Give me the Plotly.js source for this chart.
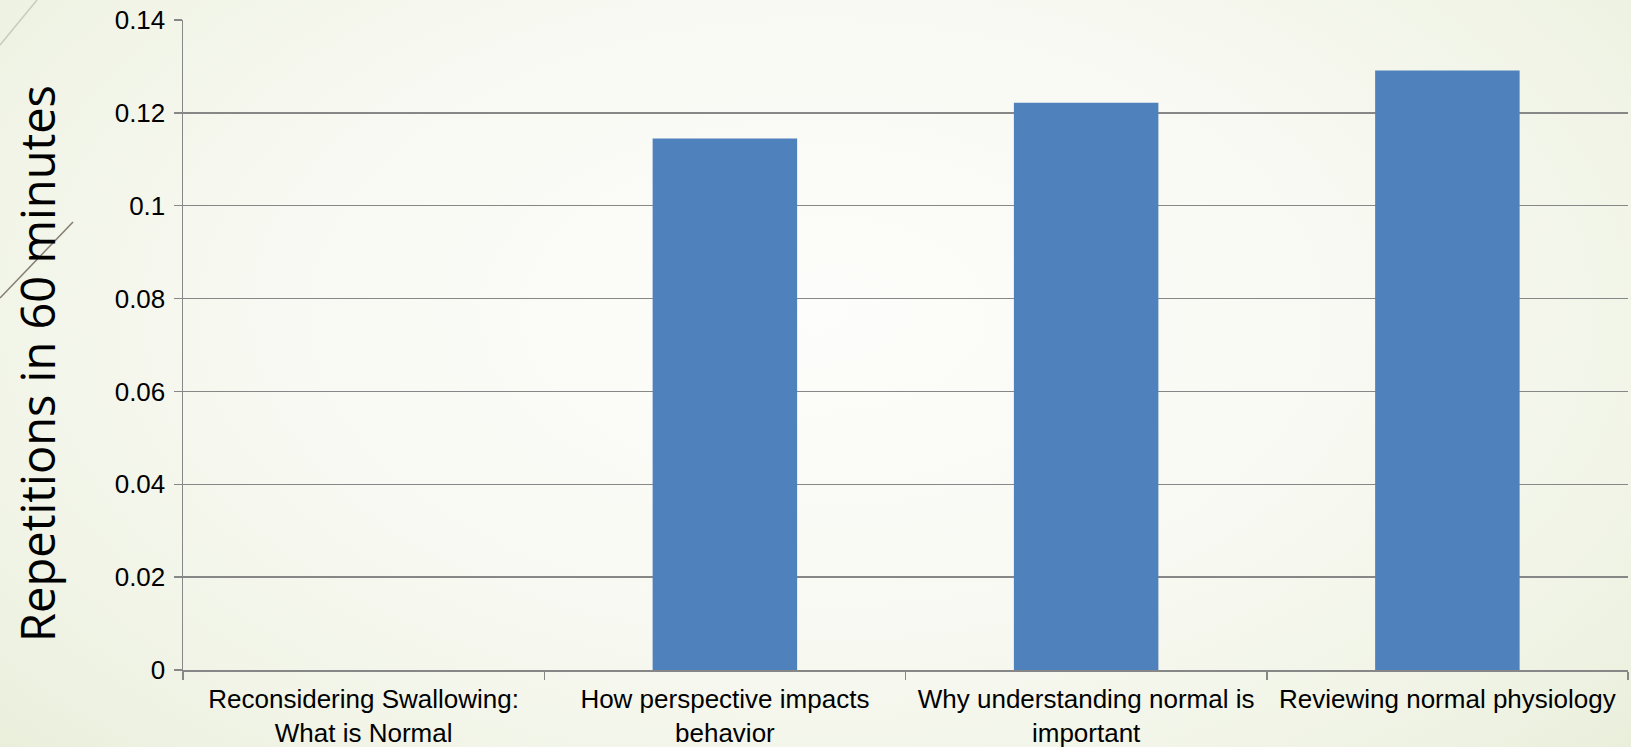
<!DOCTYPE html>
<html>
<head>
<meta charset="utf-8">
<script src="https://cdn.plot.ly/plotly-3.0.1.min.js"></script>
<style>
  html, body { margin: 0; padding: 0; width: 1631px; height: 747px; overflow: hidden; }
  body {
    background: radial-gradient(ellipse 75% 95% at 50% 42%, #fdfdfb 0%, #f8f9f2 45%, #eef2e2 80%, #e6ecd6 100%);
  }
  #chart { width: 1631px; height: 747px; }
</style>
</head>
<body>
<div id="chart"></div>
<script>
const categories = [
  "Reconsidering Swallowing:<br>What is Normal",
  "How perspective impacts<br>behavior",
  "Why understanding normal is<br>important",
  "Reviewing normal physiology"
];
const repetitions = [0, 0.1145, 0.1222, 0.1291];
const yTitle = "Repetitions in 60 minutes";

const trace = {
  type: "bar",
  x: categories,
  y: repetitions,
  marker: { color: "#4f81bd", line: { width: 0 } },
  hoverinfo: "x+y"
};

const layout = {
  width: 1631,
  height: 747,
  margin: { l: 183, r: 3, t: 20, b: 77 },
  paper_bgcolor: "rgba(0,0,0,0)",
  plot_bgcolor: "rgba(0,0,0,0)",
  bargap: 0.6,
  showlegend: false,
  font: { family: "Liberation Sans, Arial, sans-serif", color: "#000000" },
  xaxis: {
    type: "category",
    range: [-0.5, 3.5],
    showline: true,
    linecolor: "#878787",
    linewidth: 1.5,
    ticks: "outside",
    tickson: "boundaries",
    ticklen: 8,
    tickcolor: "#878787",
    tickwidth: 1.5,
    showgrid: false,
    ticklabelstandoff: 5,
    tickfont: { size: 26, family: "Liberation Sans, Arial, sans-serif", color: "#000000" }
  },
  yaxis: {
    range: [0, 0.14],
    dtick: 0.02,
    tick0: 0,
    showline: true,
    linecolor: "#878787",
    linewidth: 1.5,
    ticks: "outside",
    ticklen: 8,
    tickcolor: "#878787",
    tickwidth: 1.5,
    showgrid: true,
    gridcolor: "#878787",
    gridwidth: 1.5,
    zeroline: false,
    tickfont: { size: 26, family: "Liberation Sans, Arial, sans-serif", color: "#000000" },
    ticklabelstandoff: 3
  },
  annotations: [{
    text: yTitle,
    xref: "paper", yref: "paper",
    x: -0.101, y: 0.471,
    xanchor: "center", yanchor: "middle",
    textangle: -90,
    showarrow: false,
    font: { size: 47, family: "Open Sans, sans-serif", color: "#000000" }
  }],
  shapes: [
    { type: "line", xref: "paper", yref: "paper", layer: "below",
      x0: -183/1445, y0: (747-77-45)/650, x1: (37-183)/1445, y1: (747-77)/650,
      line: { color: "#c9cbbb", width: 1.5 } },
    { type: "line", xref: "paper", yref: "paper", layer: "above",
      x0: -183/1445, y0: (670-298)/650, x1: (73-183)/1445, y1: (670-222)/650,
      line: { color: "#857d70", width: 1.5 } }
  ]
};

Plotly.newPlot("chart", [trace], layout, { displayModeBar: false, staticPlot: true });
</script>
</body>
</html>
